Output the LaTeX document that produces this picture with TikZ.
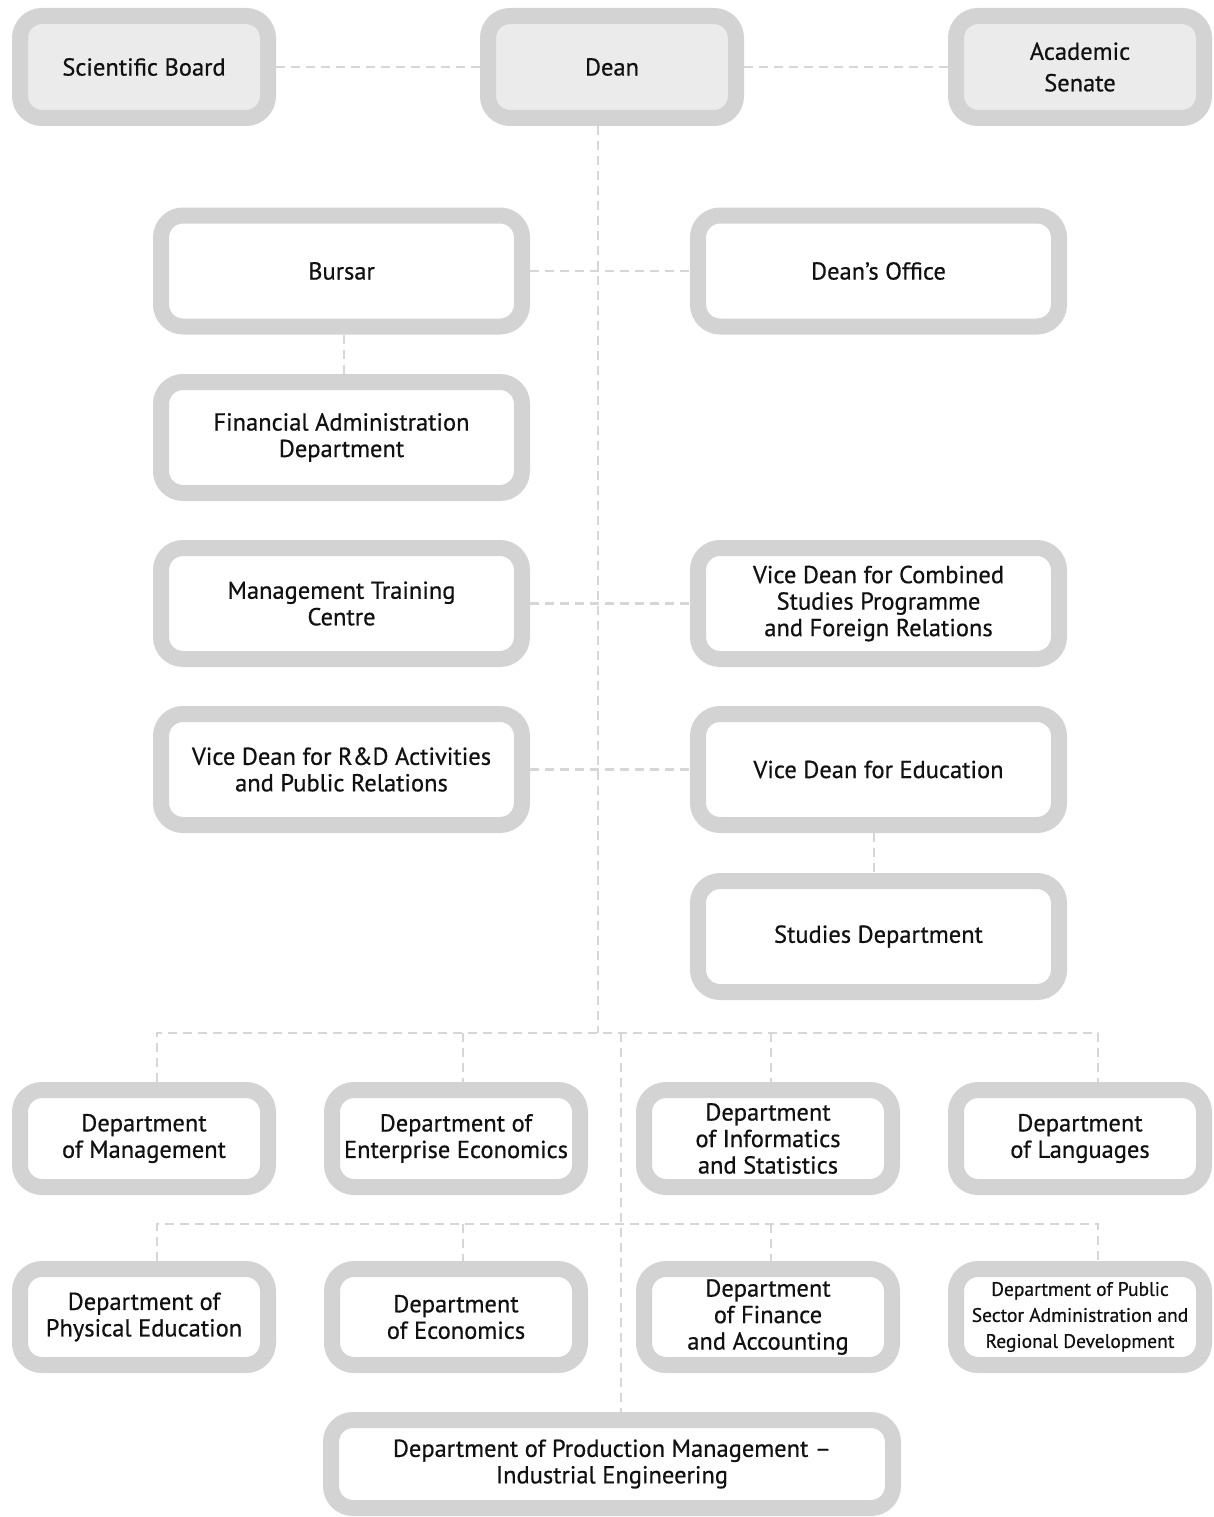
\documentclass[tikz,border=0pt]{standalone}
\usepackage{fontspec}
\setmainfont{PT Sans}[BoldFont={PT Sans}, BoldFeatures={FakeBold=0.6}]
\definecolor{bordergray}{HTML}{D3D3D3}
\definecolor{topfill}{HTML}{EBEBEB}
\definecolor{linegray}{HTML}{D6D6D6}
\definecolor{txt}{HTML}{111111}
\begin{document}
\begin{tikzpicture}[x=1pt,y=1pt,
  box/.style={draw=bordergray, line width=16pt, rounded corners=22pt, fill=white,
    align=center, text=txt, inner sep=0pt,
    font=\fontsize{24.5pt}{26.5pt}\selectfont\bfseries},
  topbox/.style={box, fill=topfill, minimum width=248pt, minimum height=102pt},
  midbox/.style={box, minimum width=361pt, minimum height=111pt},
  deptbox/.style={box, minimum width=248pt, minimum height=97pt},
  smalltext/.style={font=\fontsize{19.5pt}{26pt}\selectfont\bfseries},
  conn/.style={draw=linegray, line width=2.5pt, dash pattern=on 9pt off 6pt}]
\useasboundingbox (0,0) rectangle (1213,-1517);
% top row
\node[topbox] (sb) at (144,-67) {Scientific Board};
\node[topbox] (dean) at (612,-67) {Dean};
\node[topbox] (as) at (1080,-67) {Academic\\[5pt]Senate};
% middle
\node[midbox] (bursar) at (341.5,-271) {Bursar};
\node[midbox] (do) at (878.5,-271) {Dean’s Office};
\node[midbox] (fa) at (341.5,-437.5) {Financial Administration\\Department};
\node[midbox] (mtc) at (341.5,-603.5) {Management Training\\Centre};
\node[midbox] (vdc) at (878.5,-603.5) {Vice Dean for Combined\\Studies Programme\\and Foreign Relations};
\node[midbox] (vdr) at (341.5,-769.5) {Vice Dean for R\&D Activities\\and Public Relations};
\node[midbox] (vde) at (878.5,-769.5) {Vice Dean for Education};
\node[midbox] (sd) at (878.5,-936.5) {Studies Department};
% departments row 1
\node[deptbox] (d11) at (144,-1138.5) {Department\\of Management};
\node[deptbox] (d12) at (456,-1138.5) {Department of\\Enterprise Economics};
\node[deptbox] (d13) at (768,-1138.5) {Department\\of Informatics\\and Statistics};
\node[deptbox] (d14) at (1080,-1138.5) {Department\\of Languages};
% departments row 2
\node[deptbox, minimum height=96pt] (d21) at (144,-1317) {Department of\\Physical Education};
\node[deptbox, minimum height=96pt] (d22) at (456,-1317) {Department\\of Economics};
\node[deptbox, minimum height=96pt] (d23) at (768,-1317) {Department\\of Finance\\and Accounting};
\node[deptbox, minimum height=96pt, smalltext] (d24) at (1080,-1317) {Department of Public\\Sector Administration and\\Regional Development};
\node[box, minimum width=562pt, minimum height=88pt] (pm) at (612,-1464) {Department of Production Management –\\Industrial Engineering};
% helper coordinates
\coordinate (spx) at (598,-1033);
\coordinate (xb) at (344,0);
\coordinate (xe) at (874,0);
\coordinate (a1) at (157,-1033);
\coordinate (a2) at (463,-1033);
\coordinate (a3) at (771,-1033);
\coordinate (a4) at (1098,-1033);
\coordinate (v1) at (621,-1033);
\coordinate (c1) at (157,-1224);
\coordinate (c2) at (463,-1224);
\coordinate (c3) at (771,-1224);
\coordinate (c4) at (1098,-1224);
% connectors
\draw[conn] (sb) -- (dean);
\draw[conn] (dean) -- (as);
\draw[conn] (dean.south -| spx) -- (spx);
\draw[conn] (bursar) -- (do);
\draw[conn] (bursar.south -| xb) -- (fa.north -| xb);
\draw[conn] (mtc) -- (vdc);
\draw[conn] (vdr) -- (vde);
\draw[conn] (vde.south -| xe) -- (sd.north -| xe);
\draw[conn] (d11.north -| a1) -- (a1) -- (a4) -- (d14.north -| a4);
\draw[conn] (a2) -- (d12.north -| a2);
\draw[conn] (a3) -- (d13.north -| a3);
\draw[conn] (d21.north -| c1) -- (c1) -- (c4) -- (d24.north -| c4);
\draw[conn] (c2) -- (d22.north -| c2);
\draw[conn] (c3) -- (d23.north -| c3);
\draw[conn] (v1) -- (pm.north -| v1);
\end{tikzpicture}
\end{document}
